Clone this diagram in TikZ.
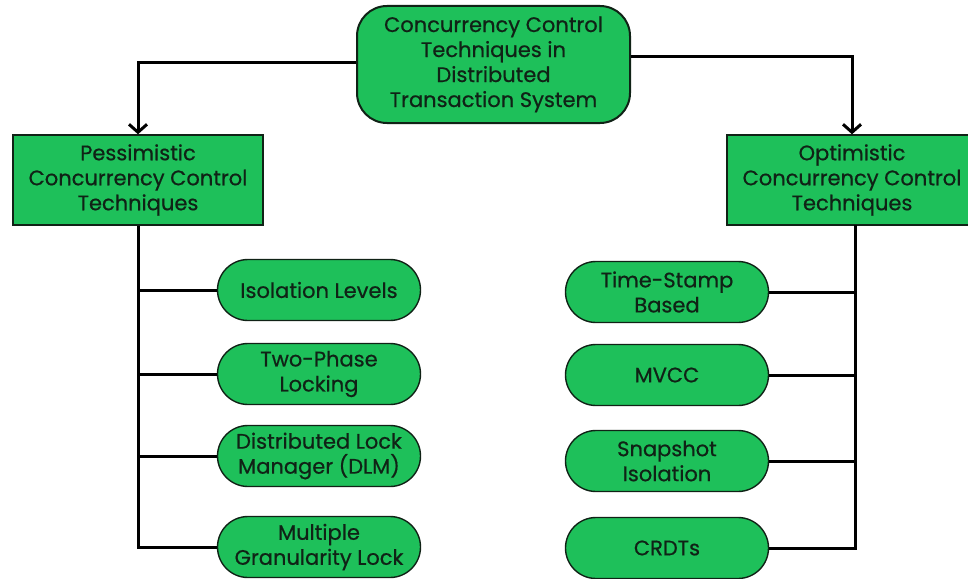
\documentclass[tikz,border=0pt]{standalone}
\usepackage{fontspec}
\setmainfont{Poppins}[FakeBold=0.6]
\usetikzlibrary{arrows.meta,shapes.misc}
\definecolor{boxgreen}{RGB}{30,192,90}
\definecolor{inkdark}{RGB}{16,34,22}
\begin{document}
\begin{tikzpicture}[x=1pt,y=-1pt,
  base/.style={draw=inkdark,line width=1.4pt,fill=boxgreen,text=inkdark,align=center,font=\fontsize{21}{25}\selectfont,inner sep=0pt},
  rootbox/.style={base,line width=2pt,rounded corners=30pt,minimum width=273pt,minimum height=117pt},
  catbox/.style={base,minimum width=250pt,minimum height=90pt},
  pill/.style={base,rounded rectangle,minimum width=203pt,minimum height=61pt},
  link/.style={line width=3pt,draw=black},
  arr/.style={link,-{Straight Barb[length=8pt,width=18pt,line width=3pt]}}]
\useasboundingbox (0,0) rectangle (968,578);
\fill[white] (0,0) rectangle (968,578);

% root and the two families
\node[rootbox] (root) at (493.5,64.5) {\raisebox{-3pt}{\begin{tabular}{@{}c@{}}Concurrency Control\\Techniques in\\Distributed\\Transaction System\end{tabular}}};
\node[catbox] (pess) at (138,180) {Pessimistic\\Concurrency Control\\Techniques};
\node[catbox] (opt) at (852,180) {Optimistic\\Concurrency Control\\Techniques};

% pessimistic techniques
\node[pill] (iso) at (319,290) {Isolation Levels};
\node[pill] (tpl) at (319,374) {Two-Phase\\Locking};
\node[pill] (dlm) at (319,456) {Distributed Lock\\Manager (DLM)};
\node[pill] (mgl) at (319,547) {Multiple\\Granularity Lock};

% optimistic techniques
\node[pill] (ts) at (667,292) {Time-Stamp\\Based};
\node[pill] (mvcc) at (667,375) {MVCC};
\node[pill] (snap) at (667,461) {Snapshot\\Isolation};
\node[pill] (crdt) at (667,548) {CRDTs};

% root to families
\draw[arr] (root.west |- 0,62) -| (pess.north);
\draw[arr] (root.east |- 0,57) -| (opt.north);

% left trunk with its branches
\draw[link] (pess.south) |- (mgl.west);
\draw[link] (pess.south |- iso.west) -- (iso.west);
\draw[link] (pess.south |- tpl.west) -- (tpl.west);
\draw[link] (pess.south |- dlm.west) -- (dlm.west);

% right trunk with its branches
\coordinate (rtop) at (855,225);
\draw[link] (rtop) |- (crdt.east);
\draw[link] (rtop |- ts.east) -- (ts.east);
\draw[link] (rtop |- mvcc.east) -- (mvcc.east);
\draw[link] (rtop |- snap.east) -- (snap.east);
\end{tikzpicture}
\end{document}
